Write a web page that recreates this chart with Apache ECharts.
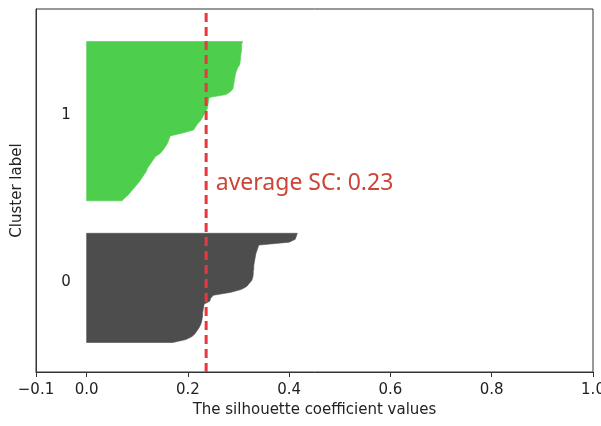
<!DOCTYPE html>
<html>
<head>
<meta charset="utf-8">
<script src="https://cdn.jsdelivr.net/npm/echarts@6/dist/echarts.min.js"></script>
<style>
html,body{margin:0;padding:0;background:#fff;}
#chart{width:601px;height:426px;}
</style>
</head>
<body>
<div id="chart"></div>
<script>
// Silhouette values per cluster, sorted ascending (bottom to top)
const cluster0Values = [0.170,0.196,0.208,0.214,0.218,0.222,0.225,0.227,0.228,0.229,
  0.229,0.230,0.231,0.232,0.243,0.245,0.250,0.285,0.306,0.316,
  0.321,0.326,0.328,0.329,0.329,0.330,0.330,0.331,0.332,0.333,
  0.334,0.336,0.338,0.340,0.400,0.412,0.414,0.416];
const cluster1Values = [0.070,0.075,0.082,0.087,0.092,0.097,0.102,0.106,0.110,0.114,
  0.118,0.120,0.124,0.128,0.132,0.136,0.145,0.150,0.154,0.158,
  0.161,0.163,0.165,0.190,0.211,0.215,0.219,0.224,0.228,0.231,
  0.234,0.238,0.239,0.240,0.241,0.242,0.275,0.284,0.289,0.290,
  0.291,0.292,0.293,0.294,0.296,0.298,0.302,0.303,0.304,0.304,
  0.305,0.306,0.306,0.306,0.308];
const clusterLabels = ['0','1'];
const clusterColors = ['#4d4d4d','#4dcf4d'];
const xTickValues = [-0.1,0.0,0.2,0.4,0.6,0.8,1.0];
const averageSC = 0.236;
const averageText = 'average SC: 0.23';
const annotationPos = [0.255, 64];
const clusterGap = 10;

const clusters = [cluster0Values, cluster1Values];
let yLower = clusterGap;
const clusterData = [];
const labelData = [];
clusters.forEach((vals, k) => {
  clusterData.push(vals.map((v, i) => [v, yLower + i]));
  labelData.push([-0.05, yLower + 0.5 * vals.length, clusterLabels[k]]);
  yLower += vals.length + clusterGap;
});
const yMax = yLower;

function polygonRenderer(data, color) {
  return function (params, api) {
    if (params.dataIndex !== 0) return null;
    const pts = [api.coord([0, data[0][1]])];
    data.forEach(d => pts.push(api.coord(d)));
    pts.push(api.coord([0, data[data.length - 1][1]]));
    return {type: 'polygon', shape: {points: pts},
      style: {fill: color, stroke: color, lineWidth: 0.6}};
  };
}

const series = clusterData.map((d, k) => ({
  type: 'custom', data: d, renderItem: polygonRenderer(d, clusterColors[k]),
  clip: true, silent: true, z: 2
}));

series.push({
  type: 'line', data: [[averageSC, 0], [averageSC, yMax]], symbol: 'none',
  lineStyle: {color: '#e8383d', width: 3, type: [9, 5]}, z: 5, silent: true
});

series.push({
  type: 'custom', data: labelData, z: 6, silent: true,
  renderItem: function (params, api) {
    const p = api.coord([api.value(0), api.value(1)]);
    return {type: 'text', x: p[0], y: p[1] + 3,
      style: {text: labelData[params.dataIndex][2], fill: '#222', fontSize: 15,
        fontFamily: 'DejaVu Sans', align: 'left', verticalAlign: 'bottom'}};
  }
});

series.push({
  type: 'custom', data: [annotationPos], z: 6, silent: true,
  renderItem: function (params, api) {
    const p = api.coord([api.value(0), api.value(1)]);
    return {type: 'text', x: p[0], y: p[1],
      style: {text: averageText, fill: '#cd4537', fontSize: 23,
        fontFamily: 'Noto Sans', align: 'left', verticalAlign: 'middle'}};
  }
});

const chart = echarts.init(document.getElementById('chart'), null, {renderer: 'canvas'});
chart.setOption({
  animation: false,
  backgroundColor: '#fff',
  grid: {left: 36, right: 8, top: 9, bottom: 54, show: true, borderColor: '#333',
    borderWidth: 1, backgroundColor: 'transparent', containLabel: false, outerBoundsMode: 'none'},
  xAxis: {
    type: 'value', min: -0.1, max: 1.0, interval: 0.1,
    splitLine: {show: false},
    axisLine: {show: true, onZero: false, lineStyle: {color: '#333', width: 1}},
    axisTick: {show: true, length: 5, customValues: xTickValues, lineStyle: {color: '#333'}},
    axisLabel: {customValues: xTickValues, fontFamily: 'DejaVu Sans', fontSize: 15,
      color: '#222', margin: 11,
      formatter: v => (v < 0 ? '\u2212' : '') + Math.abs(v).toFixed(1)},
    name: 'The silhouette coefficient values', nameLocation: 'middle', nameGap: 31,
    nameTextStyle: {fontFamily: 'DejaVu Sans', fontSize: 15, color: '#222'}
  },
  yAxis: {
    type: 'value', min: 0, max: yMax,
    splitLine: {show: false},
    axisLine: {show: true, onZero: false, lineStyle: {color: '#333', width: 1}},
    axisTick: {show: false}, axisLabel: {show: false},
    name: 'Cluster label', nameLocation: 'middle', nameGap: 11,
    nameTextStyle: {fontFamily: 'DejaVu Sans', fontSize: 15, color: '#222'}
  },
  series: series
});
</script>
</body>
</html>
